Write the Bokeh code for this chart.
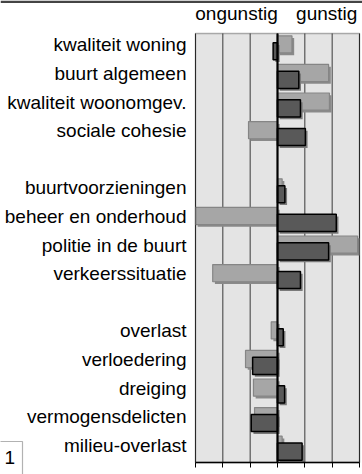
from bokeh.plotting import figure
from bokeh.models import (Range1d, FixedTicker, LinearAxis,
                          Label, BoxAnnotation, ColumnDataSource)
from bokeh.embed import file_html
from bokeh.resources import INLINE

categories = ["kwaliteit woning", "buurt algemeen", "kwaliteit woonomgev.",
              "sociale cohesie", " ", "buurtvoorzieningen", "beheer en onderhoud",
              "politie in de buurt", "verkeerssituatie", "  ", "overlast",
              "verloedering", "dreiging", "vermogensdelicten", "milieu-overlast"]
bar_cats = [c for c in categories if c.strip()]
light_vals = [0.53, 1.87, 1.90, -1.06, 0.17, -3.00, 2.93, -2.37, -0.23, -1.17, -0.88, -0.84, 0.17]
dark_vals = [-0.16, 0.78, 0.84, 1.02, 0.27, 2.15, 1.87, 0.84, 0.21, -0.91, 0.26, -0.96, 0.90]
x_ticks = [-3, -2, -1, 0, 1, 2, 3]
header_ticks = [-1.5, 1.8]
header_labels = ["ongunstig", "gunstig"]
page_number = "1"

FONT = "Liberation Sans"
W, H = 362, 474
BOX_L, BOX_R, BOX_T, BOX_B = 195, 359, 33, 462   # grey plot box on the canvas (px)
X_MIN, X_MAX = -3, 3
N = len(categories)

# scales: the frame covers the whole canvas, the plot box is a sub-area of it
px_x = (BOX_R - BOX_L) / (X_MAX - X_MIN)
px_y = (BOX_B - BOX_T) / N
x_range = Range1d(X_MIN - BOX_L / px_x, X_MAX + (W - BOX_R) / px_x)
y_range = Range1d(-(H - BOX_B) / px_y, N + BOX_T / px_y)

slot = {c: N - i - 0.5 for i, c in enumerate(categories)}
label_lift = 0.1   # category labels sit slightly above the slot centre (style)
label_pos = {c: round(slot[c] + label_lift, 2) for c in bar_cats}

p = figure(width=W, height=H, output_backend="svg", toolbar_location=None,
           x_range=x_range, y_range=y_range, min_border=0)
p.background_fill_color = "white"
p.border_fill_color = "white"
p.outline_line_color = None
p.grid.visible = False

# grey plot box + vertical grid lines
p.add_layout(BoxAnnotation(left=X_MIN, right=X_MAX, bottom=0, top=N,
                           fill_color="#e4e4e4", fill_alpha=1, line_color=None,
                           level="image"))
p.segment(x0=x_ticks, x1=x_ticks, y0=[0] * len(x_ticks), y1=[N] * len(x_ticks),
          line_color="#3a3a3a", line_width=1, level="underlay")

# x axis at the bottom of the plot box
xa = p.xaxis[0]
xa.fixed_location = 0
xa.ticker = FixedTicker(ticks=x_ticks)
xa.bounds = (X_MIN, X_MAX)
xa.major_label_overrides = {t: "" for t in x_ticks}
xa.major_tick_in = 0
xa.major_tick_out = 5
xa.major_tick_line_color = "black"
xa.axis_line_color = "black"
xa.axis_line_width = 1.5
xa.minor_tick_line_color = None

# category axis at the left edge of the plot box
ya = p.yaxis[0]
ya.fixed_location = X_MIN
ya.ticker = FixedTicker(ticks=[label_pos[c] for c in bar_cats])
ya.major_label_overrides = {label_pos[c]: c for c in bar_cats}
ya.axis_line_color = None
ya.major_tick_line_color = None
ya.minor_tick_line_color = None
ya.major_label_standoff = 3
ya.major_label_text_font = FONT
ya.major_label_text_font_size = "19px"
ya.major_label_text_color = "black"

# header axis at the top of the plot box
top = LinearAxis(ticker=FixedTicker(ticks=header_ticks), fixed_location=N,
                 major_label_overrides={t: l for t, l in zip(header_ticks, header_labels)})
top.axis_line_color = None
top.major_tick_line_color = None
top.minor_tick_line_color = None
top.major_label_standoff = 4
top.major_label_text_font = FONT
top.major_label_text_font_size = "19px"
top.major_label_text_color = "black"
p.add_layout(top, "above")

# data
off_x = 0.08   # shadow offsets (style)
off_y = 0.08
dodge_y = 0.12
bar_y = [slot[c] for c in bar_cats]
src = ColumnDataSource(dict(
    y_light=[y + dodge_y for y in bar_y],
    y_dark=[y - dodge_y for y in bar_y],
    y_light_sh=[y + dodge_y - off_y for y in bar_y],
    y_dark_sh=[y - dodge_y - off_y for y in bar_y],
    light=light_vals,
    dark=dark_vals,
    zero=[0] * len(bar_cats),
    light_sh=[v + off_x for v in light_vals],
    dark_sh=[v + off_x for v in dark_vals],
    zero_sh=[off_x] * len(bar_cats),
))

bh = 0.6
p.hbar(y="y_light_sh", left="zero_sh", right="light_sh", height=bh, source=src,
       fill_color="#8a8a8a", line_color=None)
p.hbar(y="y_light", left="zero", right="light", height=bh, source=src,
       fill_color="#a6a6a6", line_color="#858585", line_width=1.2)
p.hbar(y="y_dark_sh", left="zero_sh", right="dark_sh", height=bh, source=src,
       fill_color="#7a7a7a", line_color=None)
p.hbar(y="y_dark", left="zero", right="dark", height=bh, source=src,
       fill_color="#595959", line_color="black", line_width=1.5)

# zero line and plot-box border
p.segment(x0=[0], x1=[0], y0=[0], y1=[N], line_color="black", line_width=2.2)
p.add_layout(BoxAnnotation(left=X_MIN, right=X_MAX, bottom=0, top=N,
                           fill_color=None, fill_alpha=0, line_color="black",
                           line_width=1.5, level="annotation"))

# header rule at the top of the page
p.add_layout(BoxAnnotation(bottom=y_range.end - 2.5 / px_y, fill_color="#444444",
                           fill_alpha=1, line_color=None, level="overlay"))

# page-number box at bottom-left
p.add_layout(BoxAnnotation(left=-2, right=22, top=441, bottom=H + 4,
                           left_units="canvas", right_units="canvas",
                           top_units="canvas", bottom_units="canvas",
                           fill_color="white", fill_alpha=1, line_color="black",
                           line_width=1.2, level="overlay"))
p.add_layout(Label(x=4, y=457, x_units="canvas", y_units="canvas", text=page_number,
                   text_font=FONT, text_font_size="19px", text_align="left",
                   text_baseline="alphabetic", text_color="black", level="overlay"))

open("out.html", "w").write(file_html(p, INLINE))
